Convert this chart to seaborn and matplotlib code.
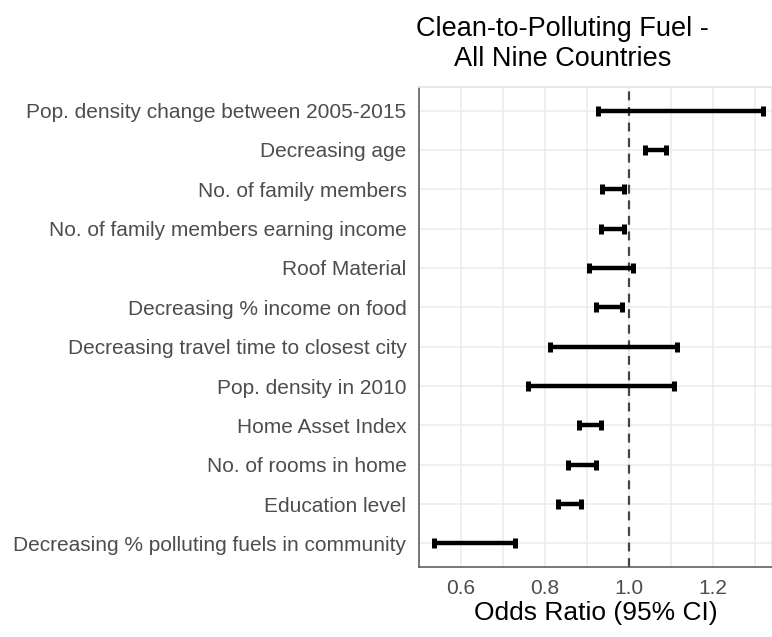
import numpy as np
import pandas as pd
import seaborn as sns
import matplotlib.pyplot as plt
from matplotlib.ticker import MultipleLocator

# Odds ratios with 95% CI (top row first)
variables = [
    "Pop. density change between 2005-2015",
    "Decreasing age",
    "No. of family members",
    "No. of family members earning income",
    "Roof Material",
    "Decreasing % income on food",
    "Decreasing travel time to closest city",
    "Pop. density in 2010",
    "Home Asset Index",
    "No. of rooms in home",
    "Education level",
    "Decreasing % polluting fuels in community",
]
ci_low = [0.926, 1.038, 0.936, 0.933, 0.905, 0.921, 0.812, 0.760, 0.881, 0.855, 0.831, 0.536]
ci_high = [1.319, 1.088, 0.988, 0.988, 1.010, 0.983, 1.114, 1.107, 0.933, 0.921, 0.886, 0.729]

df = pd.DataFrame({"variable": variables, "low": ci_low, "high": ci_high})
df["mid"] = (df["low"] + df["high"]) / 2
df["pos"] = np.arange(len(df))

sns.set_theme(style="whitegrid")
plt.rcParams["font.family"] = ["Liberation Sans", "DejaVu Sans"]

fig = plt.figure(figsize=(7.72, 6.37), dpi=100)
ax = fig.add_axes([0.5427, 0.1099, 0.4573, 0.7535])

ax.errorbar(df["mid"], df["pos"], xerr=[df["mid"] - df["low"], df["high"] - df["mid"]],
            fmt="none", ecolor="black", elinewidth=3.2, capsize=3.5, capthick=3.6, zorder=3)
ax.axvline(1.0, color="#444444", linestyle=(0, (4, 3)), linewidth=1.6, zorder=2)

ax.set_xlim(0.5, 1.34)
ax.set_ylim(len(df) - 0.4, -0.6)
ax.set_yticks(df["pos"])
ax.set_yticklabels(df["variable"])
ax.xaxis.set_minor_locator(MultipleLocator(0.1))
ax.set_xticks([0.6, 0.8, 1.0, 1.2])
ax.set_xticklabels(["0.6", "0.8", "1.0", "1.2"])

ax.grid(True, which="both", axis="x", color="#EBEBEB", linewidth=1.1)
ax.grid(True, which="major", axis="y", color="#EBEBEB", linewidth=1.1)
ax.set_facecolor("white")

for side in ["top", "right"]:
    ax.spines[side].set_color("#E5E5E5")
for side in ["left", "bottom"]:
    ax.spines[side].set_color("#555555")
    ax.spines[side].set_linewidth(1.1)

ax.tick_params(axis="both", which="major", length=4, width=1, color="#555555",
               labelcolor="#4D4D4D", labelsize=15, pad=5)
ax.tick_params(axis="x", which="minor", length=0)
ax.set_xlabel("Odds Ratio (95% CI)", fontsize=19, color="black", labelpad=2)
ax.set_ylabel("")

fig.text(0.729, 0.931, "Clean-to-Polluting Fuel -\nAll Nine Countries", ha="center", va="center",
         fontsize=19.5, color="black", linespacing=1.22)

fig.savefig("out.png", dpi=100)
